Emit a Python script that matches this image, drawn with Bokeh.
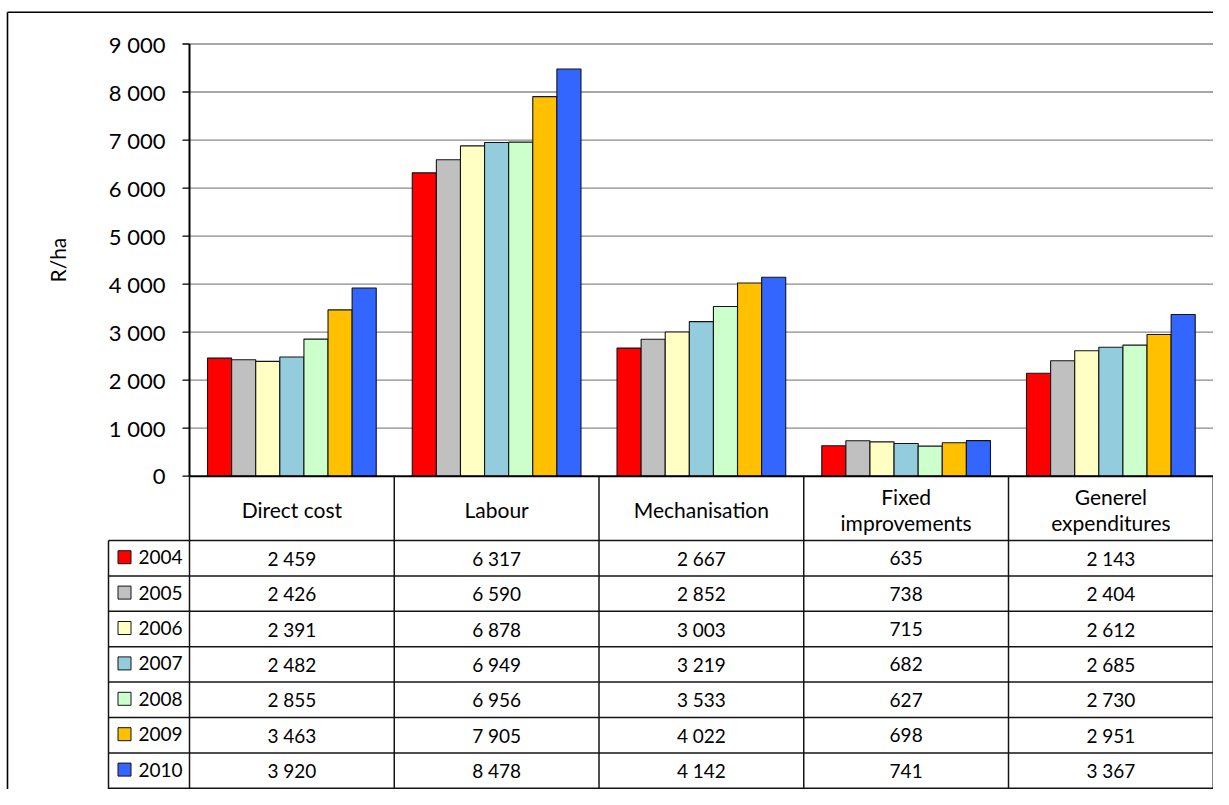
import numpy as np
from bokeh.plotting import figure
from bokeh.models import Range1d
from bokeh.core.properties import value
from bokeh.embed import file_html
from bokeh.resources import INLINE

# ---------------- data ----------------
categories = ["Direct cost", "Labour", "Mechanisation", "Fixed improvements", "Generel expenditures"]
header_lines = [["Direct cost"], ["Labour"], ["Mechanisation"], ["Fixed", "improvements"], ["Generel", "expenditures"]]
years = ["2004", "2005", "2006", "2007", "2008", "2009", "2010"]
v2004 = [2459, 6317, 2667, 635, 2143]
v2005 = [2426, 6590, 2852, 738, 2404]
v2006 = [2391, 6878, 3003, 715, 2612]
v2007 = [2482, 6949, 3219, 682, 2685]
v2008 = [2855, 6956, 3533, 627, 2730]
v2009 = [3463, 7905, 4022, 698, 2951]
v2010 = [3920, 8478, 4142, 741, 3367]
series = [v2004, v2005, v2006, v2007, v2008, v2009, v2010]
colors = ["#FF0000", "#C0C0C0", "#FFFFC4", "#93CDDD", "#CCFFCC", "#FFC000", "#3366FF"]
y_ticks = [0, 1000, 2000, 3000, 4000, 5000, 6000, 7000, 8000, 9000]
y_tick_labels = [f"{t:,}".replace(",", " ") for t in y_ticks]
y_axis_label = "R/ha"


def fmt(v):
    return f"{v:,}".replace(",", " ")


# ---------------- layout (canvas pixels) ----------------
W, H = 1213, 789
AXIS_X = 189.0          # x of value axis / first category edge
ZERO_Y = 475.7          # y of value 0
TOP_Y = 43.5            # y of top tick
CAT_W = 204.75          # px per category
PX_PER_VAL = (ZERO_Y - TOP_Y) / y_ticks[-1]
LEG_X = 108.0           # left edge of legend column
HEADER_BOTTOM = 540.0
ROW_H = 35.4
GROUP = 0.824
BW = GROUP / len(years)
FONT = "Lato"
LINE = "#141414"


def dx(px):
    return (px - AXIS_X) / CAT_W


def dy(py):
    return (ZERO_Y - py) / PX_PER_VAL


p = figure(width=W, height=H, output_backend="svg", toolbar_location=None,
           x_range=Range1d(dx(0), dx(W)),
           y_range=Range1d(dy(H), dy(0)),
           x_axis_location=None, y_axis_location=None,
           min_border=0, outline_line_color=None,
           background_fill_color="white", border_fill_color="white")
p.xgrid.visible = False
p.ygrid.visible = False

n_cat = len(categories)
x_lo, x_hi = 0, n_cat

# gridlines
gt = y_ticks[1:]
p.segment(x0=[x_lo] * len(gt), x1=[x_hi] * len(gt), y0=gt, y1=gt,
          line_color="#8a8a8a", line_width=1.3)

# bars
for j, (yr, vals, c) in enumerate(zip(years, series, colors)):
    xs = [i + 0.5 + (j - (len(years) - 1) / 2) * BW for i in range(n_cat)]
    p.vbar(x=xs, top=vals, bottom=0, width=BW, fill_color=c,
           line_color=LINE, line_width=1.1)

# value axis line and ticks
p.segment(x0=[0], x1=[0], y0=[y_ticks[0]], y1=[y_ticks[-1]], line_color="black", line_width=2)
p.segment(x0=[dx(AXIS_X - 7)] * len(y_ticks), x1=[0] * len(y_ticks), y0=y_ticks, y1=y_ticks,
          line_color="black", line_width=1.3)
p.text(x=[0] * len(y_ticks), y=y_ticks, text=y_tick_labels, x_offset=-24,
       text_font=value(FONT), text_font_size="22px", text_align="right",
       text_baseline="middle", text_color="black")
p.text(x=[dx(57)], y=[(y_ticks[0] + y_ticks[-1]) / 2], text=[y_axis_label], angle=np.pi / 2,
       text_font=value(FONT), text_font_size="21px", text_align="center",
       text_baseline="middle", text_color="black")

# ---------------- data table ----------------
bottom = dy(H + 30)
row_edges = [HEADER_BOTTOM + k * ROW_H for k in range(len(years) + 1)]
# top border of table
p.segment(x0=[x_lo], x1=[x_hi], y0=[0], y1=[0], line_color="black", line_width=2)
# horizontal row lines
p.segment(x0=[dx(LEG_X)] * len(row_edges), x1=[x_hi] * len(row_edges),
          y0=[dy(r) for r in row_edges], y1=[dy(r) for r in row_edges],
          line_color=LINE, line_width=1.5)
# vertical lines
vx = list(range(n_cat + 1))
p.segment(x0=vx, x1=vx, y0=[0] * len(vx), y1=[bottom] * len(vx), line_color=LINE, line_width=1.5)
p.segment(x0=[dx(LEG_X)], x1=[dx(LEG_X)], y0=[dy(HEADER_BOTTOM)], y1=[bottom],
          line_color=LINE, line_width=1.5)

# header labels
hx, hy, ht = [], [], []
header_mid = (ZERO_Y + HEADER_BOTTOM) / 2 + 1
for i, lines in enumerate(header_lines):
    n = len(lines)
    for k, t in enumerate(lines):
        hx.append(i + 0.5)
        hy.append(dy(header_mid + (k - (n - 1) / 2) * 26))
        ht.append(t)
p.text(x=hx, y=hy, text=ht, text_font=value(FONT), text_font_size="21px",
       text_align="center", text_baseline="middle", text_color="black")

# cell values
cx, cy, ct = [], [], []
for j, vals in enumerate(series):
    yc = dy(row_edges[j] + ROW_H / 2)
    for i, v in enumerate(vals):
        cx.append(i + 0.5)
        cy.append(yc)
        ct.append(fmt(v))
p.text(x=cx, y=cy, text=ct, text_font=value(FONT), text_font_size="19px",
       text_align="center", text_baseline="middle", text_color="black")

# legend column (keys + years)
ky = [dy(row_edges[j] + ROW_H / 2 - 1) for j in range(len(years))]
p.scatter(x=[dx(124)] * len(years), y=ky, marker="square", size=13,
          fill_color=colors, line_color=LINE, line_width=1)
p.text(x=[dx(138)] * len(years), y=ky, text=years, text_font=value(FONT),
       text_font_size="19px", text_align="left", text_baseline="middle", text_color="black")

# outer chart border (top and left)
p.segment(x0=[dx(7)], x1=[dx(W + 20)], y0=[dy(11.8)], y1=[dy(11.8)],
          line_color="black", line_width=1.6)
p.segment(x0=[dx(7)], x1=[dx(7)], y0=[dy(11.8)], y1=[bottom],
          line_color="black", line_width=1.6)

open("out.html", "w").write(file_html(p, INLINE))
